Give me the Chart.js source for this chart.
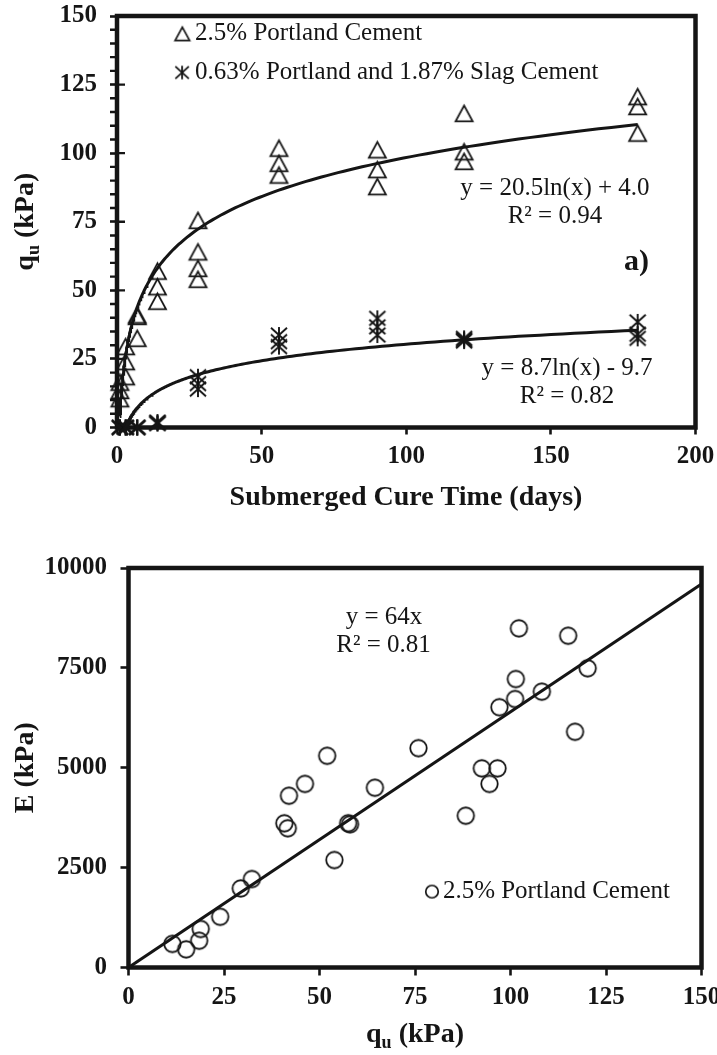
<!DOCTYPE html>
<html><head><meta charset="utf-8">
<script src="https://cdn.jsdelivr.net/npm/chart.js@4.4.1/dist/chart.umd.min.js"></script>
<style>
html,body{margin:0;padding:0;background:#fff;width:717px;height:1055px;overflow:hidden}
canvas{position:absolute;left:0}
#c1{top:0}
#c2{top:530px}
</style></head><body>
<canvas id="c1" width="717" height="530"></canvas>
<canvas id="c2" width="717" height="525"></canvas>
<script>
// ---------- DATA ----------
// Chart a): unconfined compressive strength vs submerged cure time
const cureDaysPC = [1,1,1, 3,3,3, 7,7,7, 14,14,14, 28,28,28,28, 56,56,56, 90,90,90, 120,120,120, 180,180,180];
const quPC       = [16.5,13.5,10.5, 29.5,24,18.5, 41,40.5,32.5, 57,51.3,46, 75.5,64,58,54, 101.8,96.3,92, 101.2,94,87.8, 114.5,100.5,97, 120.6,117,107.3];
const cureDaysSlag = [1,1,1, 3,3,3, 7,7,7, 14,14,14, 28,28,28, 56,56,56, 90,90,90, 120,120,120, 180,180,180];
const quSlag       = [0,0,0, 0,0,0, 0,0,0, 2,1.5,1.5, 18.5,16,14, 33.7,31.3,29.5, 39.8,36.7,33.7, 32.5,32,31.5, 38.5,34,32.5];
const fitPC   = [20.5, 4.0];   // y = a ln(x) + b
const fitSlag = [8.7, -9.7];
const topXTicks = [0, 50, 100, 150, 200];
const topYTicks = [0, 25, 50, 75, 100, 125, 150];

// Chart b): modulus vs strength
const quE  = [11.5,15.1,18.5,18.9,24,29.4,32.3,40.8,41.7,42,46.2,52,53.9,57.5,58,64.5,75.9,88.3,92.5,94.5,96.6,97.1,101.2,101.4,102.2,108.2,115.1,116.9,120.2];
const eMod = [590,455,670,965,1270,1980,2215,3610,3485,4300,4595,5300,2690,3610,3585,4500,5490,3800,4985,4595,4985,6515,6720,7220,8490,6905,8305,5900,7490];
const fitE = 64;               // y = 64x
const botXTicks = [0, 25, 50, 75, 100, 125, 150];
const botYTicks = [0, 2500, 5000, 7500, 10000];

const seriesNames = ['2.5% Portland Cement', '0.63% Portland and 1.87% Slag Cement'];

// ---------- STYLE HELPERS ----------
const INK = '#151515';
const SERIF = "'Liberation Serif', 'Times New Roman', serif";

function marker(kind, s, lw) {
  const n = Math.ceil(s + lw * 2 + 4);
  const c = document.createElement('canvas');
  c.width = c.height = n;
  const g = c.getContext('2d');
  const m = n / 2;
  g.strokeStyle = INK; g.lineWidth = lw; g.lineJoin = 'miter';
  g.beginPath();
  if (kind === 'tri') {
    const h = s * 0.92;
    g.moveTo(m, m - h / 2); g.lineTo(m + s / 2, m + h / 2); g.lineTo(m - s / 2, m + h / 2); g.closePath();
  } else if (kind === 'circ') {
    g.arc(m, m, s / 2, 0, Math.PI * 2);
  } else {
    const r = s / 2;
    g.moveTo(m - r, m - r * 0.9); g.lineTo(m + r, m + r * 0.9);
    g.moveTo(m + r, m - r * 0.9); g.lineTo(m - r, m + r * 0.9);
    g.moveTo(m, m - r); g.lineTo(m, m + r);
  }
  g.stroke();
  return c;
}
const triBig = marker('tri', 17, 1.8), astBig = marker('ast', 16, 1.9), circBig = marker('circ', 16.5, 1.8);
const triSm = marker('tri', 14.5, 1.7), astSm = marker('ast', 13.5, 1.8), circSm = marker('circ', 12.5, 1.7);

function pts(xs, ys) { return xs.map((x, i) => ({ x, y: ys[i] })); }
function logTrend(c, from, to, n) {
  const out = [];
  for (let i = 0; i <= n; i++) { const x = from * Math.pow(to / from, i / n); out.push({ x, y: c[0] * Math.log(x) + c[1] }); }
  return out;
}

function drawRich(ctx, parts, cx, cy, rot) {
  ctx.save();
  ctx.translate(cx, cy);
  if (rot) ctx.rotate(rot);
  ctx.fillStyle = INK; ctx.textBaseline = 'alphabetic'; ctx.textAlign = 'left';
  let w = 0;
  parts.forEach(p => { ctx.font = p.font; p.w = ctx.measureText(p.t).width; w += p.w; });
  let x = -w / 2;
  parts.forEach(p => { ctx.font = p.font; ctx.fillText(p.t, x, 9.5 + (p.dy || 0)); x += p.w; });
  ctx.restore();
}
const TF = 'bold 28px ' + SERIF, TFS = 'bold 18px ' + SERIF;
const quTitle = [{ t: 'q', font: TF }, { t: 'u', font: TFS, dy: 6 }, { t: ' (kPa)', font: TF }];

function axisOpts(ticksArr, min, max, isX, size, tickLen, pad) {
  return {
    type: 'linear', min, max,
    afterBuildTicks: s => { s.ticks = ticksArr.map(v => ({ value: v })); },
    afterFit: s => {
      if (isX) s.height = size; else s.width = size;
      s.paddingLeft = 0; s.paddingRight = 0; s.paddingTop = 0; s.paddingBottom = 0;
    },
    grid: { display: true, drawOnChartArea: false, drawTicks: true, tickLength: tickLen, tickWidth: 2.6, tickColor: INK },
    border: { display: false },
    ticks: { font: { family: SERIF, size: 25, weight: 'bold' }, color: INK, padding: pad, maxRotation: 0, autoSkip: false,
             callback: v => String(v) }
  };
}

function decoPlugin(cfg) {
  return {
    id: 'deco',
    beforeDatasetsDraw(chart) {
      const ctx = chart.ctx, a = chart.chartArea;
      ctx.save();
      ctx.strokeStyle = INK; ctx.lineWidth = 4.5; ctx.lineJoin = 'miter';
      ctx.strokeRect(a.left, a.top, a.right - a.left, a.bottom - a.top);
      if (cfg.minor) {
        const y = chart.scales.y;
        ctx.lineWidth = 2.4;
        ctx.beginPath();
        for (let v = y.min; v <= y.max; v += cfg.minor) {
          const p = y.getPixelForValue(v);
          if (v % cfg.major === 0) { ctx.moveTo(a.left, p); ctx.lineTo(a.left + 8, p); }
          else { ctx.moveTo(a.left - 7, p); ctx.lineTo(a.left, p); }
        }
        ctx.stroke();
      }
      ctx.restore();
    },
    afterDraw(chart) {
      const ctx = chart.ctx, xs = chart.scales.x, ys = chart.scales.y;
      ctx.save();
      ctx.fillStyle = INK;
      ctx.textBaseline = 'middle';
      cfg.notes.forEach(n => {
        ctx.font = n.font; ctx.textAlign = n.align || 'center';
        ctx.fillText(n.t, xs.getPixelForValue(n.x), ys.getPixelForValue(n.y));
      });
      cfg.legend.forEach(l => {
        const mx = xs.getPixelForValue(l.mx), my = ys.getPixelForValue(l.y);
        ctx.drawImage(l.img, mx - l.img.width / 2, my - l.img.height / 2);
        ctx.font = '25px ' + SERIF; ctx.textAlign = 'left';
        ctx.fillText(l.t, xs.getPixelForValue(l.tx), ys.getPixelForValue(l.y));
      });
      cfg.titles.forEach(t => drawRich(ctx, t.parts, t.cx, t.cy, t.rot));
      ctx.restore();
    }
  };
}

const REG = '25px ' + SERIF;

// ---------- CHART a) ----------
new Chart(document.getElementById('c1'), {
  type: 'scatter',
  data: {
    datasets: [
      { data: logTrend(fitPC, 1, 180, 200), showLine: true, pointRadius: 0, borderColor: INK, borderWidth: 3, clip: 0 },
      { data: logTrend(fitSlag, 1, 180, 200), showLine: true, pointRadius: 0, borderColor: INK, borderWidth: 3, clip: 0 },
      { label: seriesNames[0], data: pts(cureDaysPC, quPC), pointStyle: triBig, pointRadius: 9, clip: false },
      { label: seriesNames[1], data: pts(cureDaysSlag, quSlag), pointStyle: astBig, pointRadius: 9, clip: false }
    ]
  },
  options: {
    responsive: false, animation: false, devicePixelRatio: 1, events: [],
    layout: { autoPadding: false, padding: { top: 16, right: 21.5, left: 0, bottom: 0 } },
    plugins: { legend: { display: false }, tooltip: { enabled: false } },
    scales: {
      x: axisOpts(topXTicks, 0, 200, true, 102.5, 7, 7),
      y: axisOpts(topYTicks, 0, 150, false, 117, 7, 13)
    }
  },
  plugins: [decoPlugin({
    minor: 5, major: 25,
    notes: [
      { t: 'y = 20.5ln(x) + 4.0', x: 151.4, y: 87.2, font: REG },
      { t: 'R² = 0.94', x: 151.4, y: 76.9, font: REG },
      { t: 'a)', x: 179.6, y: 60.1, font: 'bold 30px ' + SERIF },
      { t: 'y = 8.7ln(x) - 9.7', x: 155.6, y: 21.6, font: REG },
      { t: 'R² = 0.82', x: 155.6, y: 11.3, font: REG }
    ],
    legend: [
      { img: triSm, mx: 22.6, tx: 27.0, y: 143.5, t: seriesNames[0] },
      { img: astSm, mx: 22.5, tx: 27.0, y: 129.4, t: seriesNames[1] }
    ],
    titles: [
      { parts: quTitle, cx: 23.5, cy: 221.7, rot: -Math.PI / 2 },
      { parts: [{ t: 'Submerged Cure Time (days)', font: TF }], cx: 406, cy: 495.5 }
    ]
  })]
});

// ---------- CHART b) ----------
new Chart(document.getElementById('c2'), {
  type: 'scatter',
  data: {
    datasets: [
      { data: [{ x: 0, y: 0 }, { x: 150, y: fitE * 150 }], showLine: true, pointRadius: 0, borderColor: INK, borderWidth: 3, clip: 0 },
      { label: seriesNames[0], data: pts(quE, eMod), pointStyle: circBig, pointRadius: 9, clip: false }
    ]
  },
  options: {
    responsive: false, animation: false, devicePixelRatio: 1, events: [],
    layout: { autoPadding: false, padding: { top: 38, right: 15.5, left: 0, bottom: 0 } },
    plugins: { legend: { display: false }, tooltip: { enabled: false } },
    scales: {
      x: axisOpts(botXTicks, 0, 150, true, 87.5, 8, 7.5),
      y: axisOpts(botYTicks, 0, 10000, false, 128.5, 8, 13.5)
    }
  },
  plugins: [decoPlugin({
    minor: 0,
    notes: [
      { t: 'y = 64x', x: 66.9, y: 8760, font: REG },
      { t: 'R² = 0.81', x: 66.75, y: 8060, font: REG }
    ],
    legend: [
      { img: circSm, mx: 79.45, tx: 82.3, y: 1900, t: seriesNames[0] }
    ],
    titles: [
      { parts: [{ t: 'E (kPa)', font: TF }], cx: 23, cy: 237.7, rot: -Math.PI / 2 },
      { parts: quTitle, cx: 415, cy: 502.5 }
    ]
  })]
});
</script>
</body></html>
